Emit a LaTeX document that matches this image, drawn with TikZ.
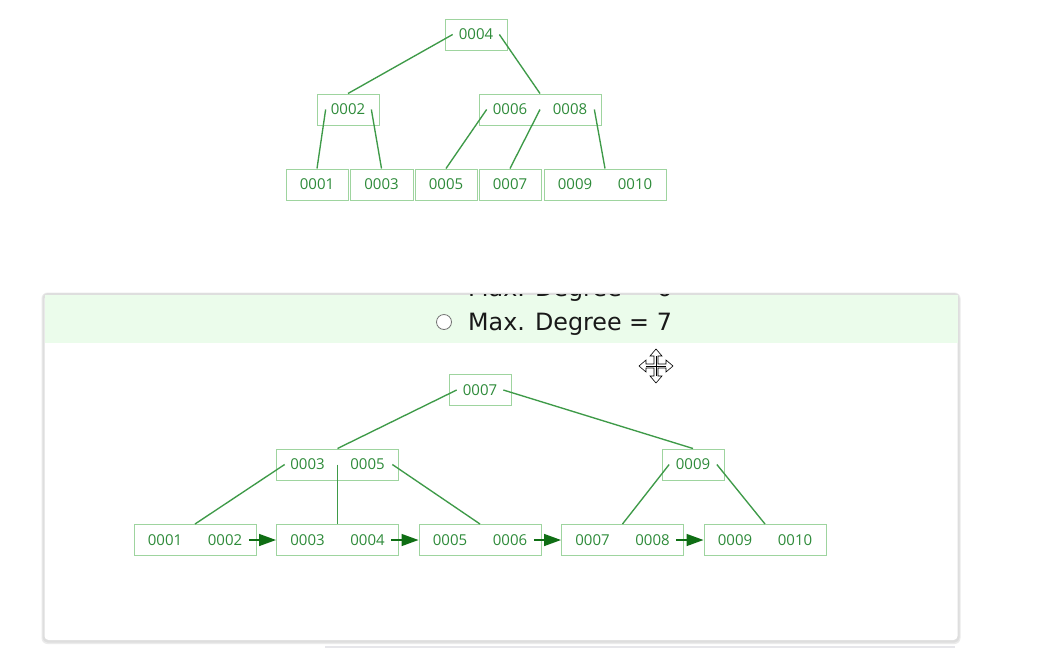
\documentclass[tikz,border=0pt]{standalone}
\usepackage{fontspec}
\setmainfont{Open Sans}
\newfontfamily\dvfont{DejaVu Sans}
\usetikzlibrary{arrows.meta}
\definecolor{edgegreen}{HTML}{3E9A48}
\definecolor{boxgreen}{HTML}{9ED49F}
\definecolor{keygreen}{HTML}{2E8B3A}
\definecolor{arrowgreen}{HTML}{0F6E14}
\definecolor{headerbg}{HTML}{EBFCEB}
\definecolor{shadowgray}{HTML}{DEDEDE}
\definecolor{cardedge}{HTML}{E6E6EA}
\begin{document}
\begin{tikzpicture}[x=1pt,y=-1pt,
  bx/.style={draw=boxgreen, line width=1pt, inner sep=0, minimum height=31pt},
  one/.style={bx, minimum width=62pt},
  two/.style={bx, minimum width=122pt},
  key/.style={text=keygreen, inner sep=0, font=\fontsize{15}{17}\selectfont},
  edge/.style={draw=edgegreen, line width=1.35pt},
  link/.style={draw=arrowgreen, line width=1.5pt, -{Triangle[length=17pt,width=12pt]}},
  hdr/.style={anchor=base west, inner sep=0, text=black!90, font=\dvfont\fontsize{23.8}{28}\selectfont},
]
\useasboundingbox (0,0) rectangle (1038,649);
\fill[white] (0,0) rectangle (1038,649);

% ---------- top tree ----------
\node[one] (t4) at (476,34.5) {};
\node[key] (t4a) at (476,34.5) {0004};
\node[one] (t2) at (348,109.5) {};
\node[key] (t2a) at (348,109.5) {0002};
\node[two] (t68) at (540,109.5) {};
\node[key] (t68a) at (510,109.5) {0006};
\node[key] (t68b) at (570,109.5) {0008};
\node[one] (l1) at (317,184.5) {};
\node[key] (l1a) at (317,184.5) {0001};
\node[bx, minimum width=63pt] (l3) at (381.5,184.5) {};
\node[key] (l3a) at (381.5,184.5) {0003};
\node[one] (l5) at (446,184.5) {};
\node[key] (l5a) at (446,184.5) {0005};
\node[one] (l7) at (510,184.5) {};
\node[key] (l7a) at (510,184.5) {0007};
\node[two] (l9) at (605,184.5) {};
\node[key] (l9a) at (575,184.5) {0009};
\node[key] (l9b) at (635,184.5) {0010};

\draw[edge] ([xshift=-6pt]t4a.west) -- (t2.north);
\draw[edge] ([xshift=6pt]t4a.east) -- (t68.north);
\draw[edge] ([xshift=-5pt]t2a.west) -- (l1.north);
\draw[edge] ([xshift=6pt]t2a.east) -- (l3.north);
\draw[edge] ([xshift=-6pt]t68a.west) -- (l5.north);
\draw[edge] (t68.center) -- (l7.north);
\draw[edge] ([xshift=7pt]t68b.east) -- (l9.north);

% ---------- card ----------
\fill[shadowgray!60, rounded corners=6pt] (41.5,292.5) rectangle (960.5,644);
\fill[shadowgray, rounded corners=5pt] (42.5,293) rectangle (959.5,642.5);
\fill[white, rounded corners=4pt] (44.5,295) rectangle (957.5,640);
\fill[headerbg] (44.5,295) rectangle (957.5,343);
\begin{scope}
  \clip (44.5,294) rectangle (957.5,343);
  \node[hdr] (deg6) at (468,296.5) {Max. Degree = 6};
\end{scope}
\node[circle, draw=black!55, fill=white, line width=0.8pt, inner sep=0, minimum size=15pt] (radio) at (444,322) {};
\node[hdr] (deg7) at (468,330) {Max. Degree = 7};
\draw[cardedge, line width=1.5pt] (325,647) -- (955,647);

% move cursor
\draw[black, fill=white, line width=0.6pt, line join=miter, shift={(656,366)}]
  (0,-17) -- (6,-10) -- (2,-10) -- (2,-2) -- (10,-2) -- (10,-6) -- (17,0) -- (10,6) -- (10,2)
  -- (2,2) -- (2,10) -- (6,10) -- (0,17) -- (-6,10) -- (-2,10) -- (-2,2) -- (-10,2) -- (-10,6)
  -- (-17,0) -- (-10,-6) -- (-10,-2) -- (-2,-2) -- (-2,-10) -- (-6,-10) -- cycle;
\draw[black, line width=0.5pt, shift={(656,366)}] (0,-10) -- (0,10) (-10,0) -- (10,0);

% ---------- bottom tree ----------
\node[one] (b7) at (480,390) {};
\node[key] (b7a) at (480,390) {0007};
\node[two] (b35) at (337.5,464.5) {};
\node[key] (b35a) at (307.5,464.5) {0003};
\node[key] (b35b) at (367.5,464.5) {0005};
\node[one] (b9) at (693,464.5) {};
\node[key] (b9a) at (693,464.5) {0009};

\node[two] (m1) at (195,540) {};
\node[key] (m1a) at (165,540) {0001};
\node[key] (m1b) at (225,540) {0002};
\node[two] (m2) at (337.5,540) {};
\node[key] (m2a) at (307.5,540) {0003};
\node[key] (m2b) at (367.5,540) {0004};
\node[two] (m3) at (480,540) {};
\node[key] (m3a) at (450,540) {0005};
\node[key] (m3b) at (510,540) {0006};
\node[two] (m4) at (622.5,540) {};
\node[key] (m4a) at (592.5,540) {0007};
\node[key] (m4b) at (652.5,540) {0008};
\node[two] (m5) at (765,540) {};
\node[key] (m5a) at (735,540) {0009};
\node[key] (m5b) at (795,540) {0010};

\draw[edge] ([xshift=-6pt]b7a.west) -- (b35.north);
\draw[edge] ([xshift=6pt]b7a.east) -- (b9.north);
\draw[edge] ([xshift=-5.5pt]b35a.west) -- (m1.north);
\draw[edge] (b35.center) -- (m2.north);
\draw[edge] ([xshift=7.5pt]b35b.east) -- (m3.north);
\draw[edge] ([xshift=-6.5pt]b9a.west) -- (m4.north);
\draw[edge] ([xshift=6.5pt]b9a.east) -- (m5.north);

\draw[link] ([xshift=6.5pt]m1b.east) -- (m2.west);
\draw[link] ([xshift=6.5pt]m2b.east) -- (m3.west);
\draw[link] ([xshift=6.5pt]m3b.east) -- (m4.west);
\draw[link] ([xshift=6.5pt]m4b.east) -- (m5.west);
\end{tikzpicture}
\end{document}
